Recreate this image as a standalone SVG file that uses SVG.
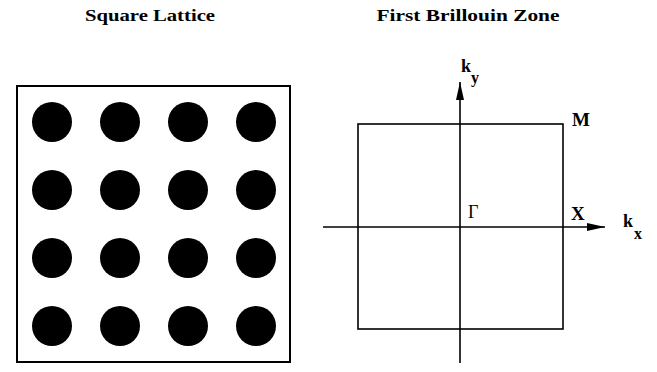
<svg xmlns="http://www.w3.org/2000/svg" width="657" height="372" viewBox="0 0 657 372">
<style>
.title{font-family:"Liberation Serif","Times New Roman","DejaVu Serif",serif;font-weight:bold;font-size:17px;fill:#000}
.lbl{font-family:"Liberation Serif","Times New Roman","DejaVu Serif",serif;font-weight:bold;font-size:19px;fill:#000}
.k{font-family:"Liberation Serif","Times New Roman","DejaVu Serif",serif;font-weight:bold;font-size:18px;fill:#000}
.sub{font-family:"Liberation Serif","Times New Roman","DejaVu Serif",serif;font-weight:bold;font-size:16px;fill:#000}
.gam{font-family:"Liberation Serif","Times New Roman","DejaVu Serif",serif;font-size:18px;fill:#000}
.dot{fill:#000}
.frame{fill:none;stroke:#000;stroke-width:2}
.zone{fill:none;stroke:#000;stroke-width:1.6}
.axis{fill:none;stroke:#000;stroke-width:1.6}
</style>
<defs>
<marker id="arr" viewBox="0 0 18 8" refX="18" refY="4" markerWidth="18" markerHeight="8" markerUnits="userSpaceOnUse" orient="auto">
<path d="M0,0 L18,4 L0,8 Z" fill="#000"/>
</marker>
</defs>
<rect width="657" height="372" fill="#fff"/>
<text class="title" x="150" y="21" text-anchor="middle" textLength="130" lengthAdjust="spacingAndGlyphs">Square Lattice</text>
<text class="title" x="468" y="21" text-anchor="middle" textLength="183" lengthAdjust="spacingAndGlyphs">First Brillouin Zone</text>
<g id="lattice">
<rect class="frame" x="17" y="86" width="273" height="276"/>
<circle class="dot" cx="52" cy="122" r="20"/>
<circle class="dot" cx="120" cy="122" r="20"/>
<circle class="dot" cx="188" cy="122" r="20"/>
<circle class="dot" cx="256" cy="122" r="20"/>
<circle class="dot" cx="52" cy="190" r="20"/>
<circle class="dot" cx="120" cy="190" r="20"/>
<circle class="dot" cx="188" cy="190" r="20"/>
<circle class="dot" cx="256" cy="190" r="20"/>
<circle class="dot" cx="52" cy="258" r="20"/>
<circle class="dot" cx="120" cy="258" r="20"/>
<circle class="dot" cx="188" cy="258" r="20"/>
<circle class="dot" cx="256" cy="258" r="20"/>
<circle class="dot" cx="52" cy="326" r="20"/>
<circle class="dot" cx="120" cy="326" r="20"/>
<circle class="dot" cx="188" cy="326" r="20"/>
<circle class="dot" cx="256" cy="326" r="20"/>
</g>
<g id="zone">
<rect class="zone" x="358" y="124" width="205" height="205"/>
</g>
<g id="connectors">
<line class="axis" x1="323" y1="227" x2="605" y2="227" marker-end="url(#arr)"/>
<line class="axis" x1="460" y1="363" x2="460" y2="82" marker-end="url(#arr)"/>
</g>
<g id="labels">
<text class="lbl" x="572" y="126">M</text>
<text class="lbl" x="571" y="220">X</text>
<text class="gam" x="468" y="218">Γ</text>
<text class="k" x="623" y="227">k</text>
<text class="sub" x="634" y="239">x</text>
<text class="k" x="461" y="72">k</text>
<text class="sub" x="471" y="83">y</text>
</g>
</svg>
